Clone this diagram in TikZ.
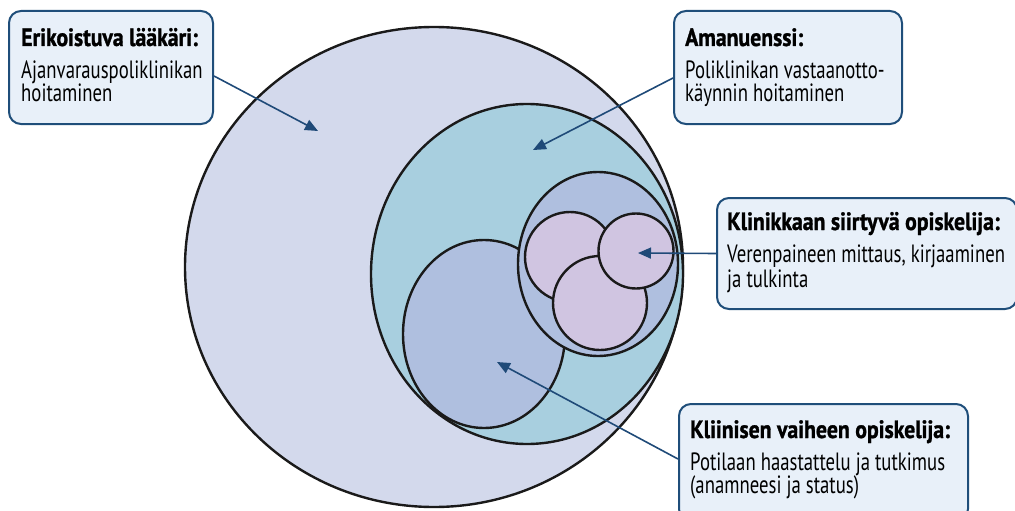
\documentclass[tikz,border=0pt]{standalone}
\usepackage{fontspec}
\setmainfont{PT Sans}[FakeStretch=0.75, BoldFeatures={FakeStretch=0.87, FakeBold=1.2}]
\usetikzlibrary{arrows.meta}
\definecolor{bigc}{HTML}{D3D9EC}
\definecolor{tealc}{HTML}{A8CFDF}
\definecolor{bluec}{HTML}{AFBFDF}
\definecolor{pinkc}{HTML}{D0C5E1}
\definecolor{boxfill}{HTML}{E8F0F9}
\definecolor{boxline}{HTML}{1F4E7A}
\definecolor{arrowc}{HTML}{1F4A78}
\definecolor{outline}{HTML}{1A1A1A}
\tikzset{
  venn/.style={draw=outline, line width=2.4pt},
  infobox/.style={draw=boxline, fill=boxfill, line width=2pt, rounded corners=12pt,
    anchor=north west, inner sep=0pt},
  headtxt/.style={anchor=base west, inner sep=0pt, font=\fontsize{25}{26}\selectfont\bfseries},
  bodytxt/.style={anchor=base west, inner sep=0pt, font=\fontsize{25}{26}\selectfont},
  pointer/.style={draw=arrowc, line width=1.6pt, -{Triangle[length=13pt,width=11pt]}}
}
\begin{document}
\begin{tikzpicture}[x=1pt,y=-1pt]
\useasboundingbox (0,0) rectangle (1015,511);
% nested sets
\filldraw[venn, fill=bigc] (434,267) ellipse [x radius=249pt, y radius=240pt];
\filldraw[venn, fill=tealc] (527,274) ellipse [x radius=156pt, y radius=170pt];
\filldraw[venn, fill=bluec] (484,334) ellipse [x radius=81pt, y radius=94pt];
\filldraw[venn, fill=bluec] (598,264) ellipse [x radius=80pt, y radius=92pt];
\filldraw[venn, fill=pinkc] (570,257) circle [radius=45pt];
\filldraw[venn, fill=pinkc] (600,303) circle [radius=47pt];
\filldraw[venn, fill=pinkc] (636,251) circle [radius=37.5pt];
% arrow targets
\coordinate (a1) at (318,131);
\coordinate (a2) at (533,150);
\coordinate (a3) at (638,253);
\coordinate (a4) at (497,362);
% boxes
\node[infobox, minimum width=204pt, minimum height=113pt] (b1) at (8,10) {};
\node[infobox, minimum width=228pt, minimum height=113pt] (b2) at (673,10) {};
\node[infobox, minimum width=300pt, minimum height=111pt] (b3) at (716,197) {};
\node[infobox, minimum width=289pt, minimum height=117pt] (b4) at (678,403) {};
% texts
\node[headtxt] (t1h) at (21,46) {Erikoistuva lääkäri:};
\node[bodytxt] (t1a) at (21,79) {Ajanvarauspoliklinikan};
\node[bodytxt] (t1b) at (21,102) {hoitaminen};
\node[headtxt] (t2h) at (685,46) {Amanuenssi:};
\node[bodytxt] (t2a) at (685,79) {Poliklinikan vastaanotto-};
\node[bodytxt] (t2b) at (685,102) {käynnin hoitaminen};
\node[headtxt] (t3h) at (727,230) {Klinikkaan siirtyvä opiskelija:};
\node[bodytxt] (t3a) at (727,262) {Verenpaineen mittaus, kirjaaminen};
\node[bodytxt] (t3b) at (727,287) {ja tulkinta};
\node[headtxt] (t4h) at (690,438) {Kliinisen vaiheen opiskelija:};
\node[bodytxt] (t4a) at (690,470) {Potilaan haastattelu ja tutkimus};
\node[bodytxt] (t4b) at (690,493) {(anamneesi ja status)};
% connectors
\draw[pointer] ([yshift=-8.5pt]b1.east) -- (a1);
\draw[pointer] ([yshift=-10.5pt]b2.west) -- (a2);
\draw[pointer] (b3.west) -- (a3);
\draw[pointer] ([yshift=3.5pt]b4.west) -- (a4);
\end{tikzpicture}
\end{document}
